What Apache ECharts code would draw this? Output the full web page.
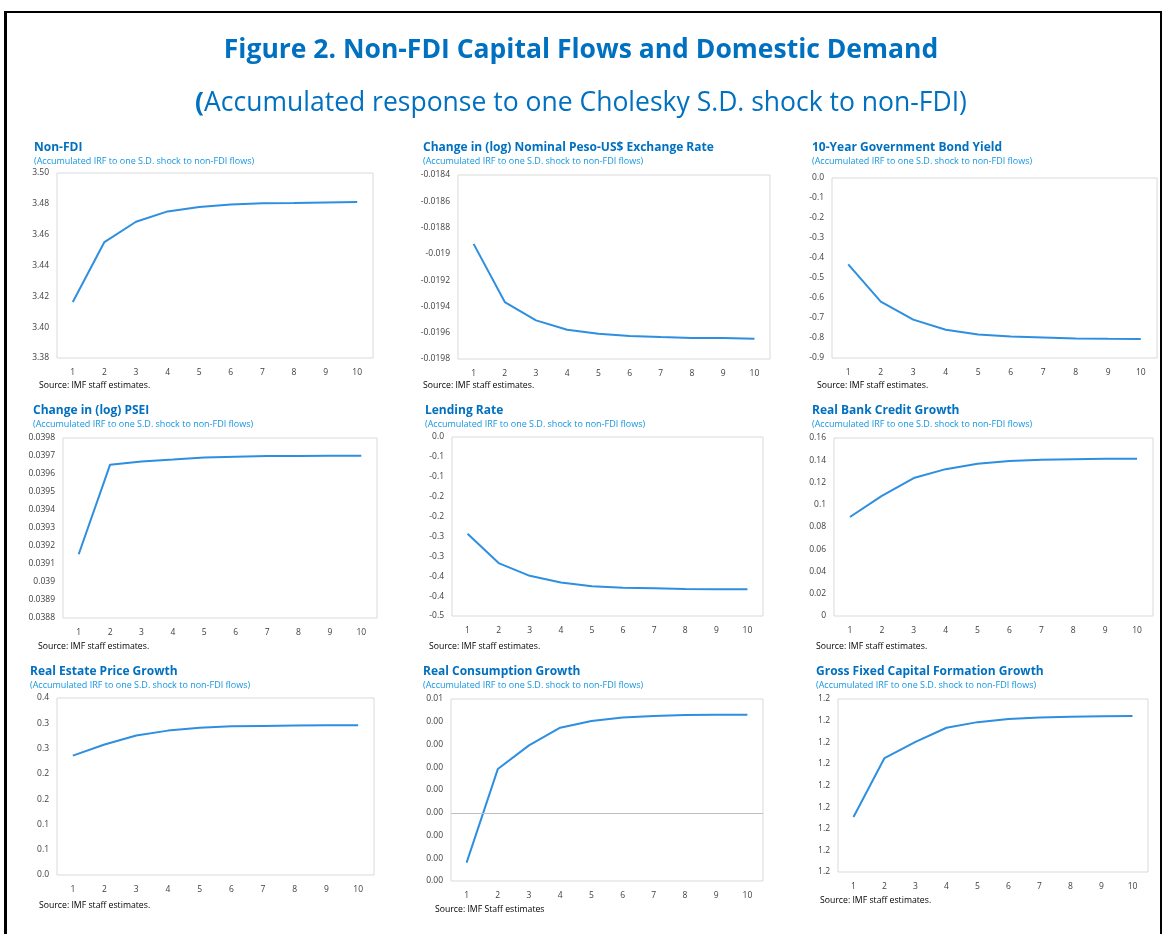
<!DOCTYPE html>
<html>
<head>
<meta charset="utf-8">
<script src="https://cdn.jsdelivr.net/npm/echarts@6/dist/echarts.min.js"></script>
<style>
  html, body { margin: 0; padding: 0; background: #fff; }
  #frame {
    position: absolute; left: 4px; top: 11px; width: 1153px; height: 940px;
    border-top: 2px solid #000; border-left: 3px solid #000; border-right: 2px solid #000;
  }
  #chart { position: absolute; left: 0; top: 0; width: 1162px; height: 934px; }
</style>
</head>
<body>
<div id="frame"></div>
<div id="chart"></div>
<script>
// horizon (periods after the shock)
const periods = ['1', '2', '3', '4', '5', '6', '7', '8', '9', '10']

// accumulated impulse responses
const nonFdi = [3.4163, 3.4552, 3.4684, 3.4751, 3.4779, 3.4795, 3.4803, 3.4805, 3.4809, 3.4812]
const pesoUsd = [-0.018924, -0.019367, -0.019506, -0.019577, -0.019608, -0.019625, -0.019633, -0.019640, -0.019641, -0.019645]
const bondYield = [-0.432, -0.618, -0.708, -0.759, -0.782, -0.792, -0.797, -0.802, -0.804, -0.805]
const psei = [0.039154, 0.039652, 0.039670, 0.039680, 0.039691, 0.039696, 0.039700, 0.039700, 0.039701, 0.039702]
const lendingRate = [-0.243, -0.317, -0.349, -0.366, -0.375, -0.379, -0.380, -0.382, -0.383, -0.383]
const bankCredit = [0.089, 0.108, 0.124, 0.132, 0.1368, 0.1393, 0.1405, 0.1410, 0.1414, 0.1414]
const realEstate = [0.236, 0.258, 0.276, 0.2855, 0.2914, 0.294, 0.2947, 0.2954, 0.296, 0.296]
const consumption = [-0.00219, 0.00192, 0.00296, 0.00374, 0.00403, 0.00419, 0.00425, 0.0043, 0.00431, 0.00431]
const gfcf = [1.21854, 1.22127, 1.22202, 1.22267, 1.22293, 1.22307, 1.22315, 1.22318, 1.2232, 1.22321]

const titles = [
  'Non-FDI',
  'Change in (log) Nominal Peso-US$ Exchange Rate',
  '10-Year Government Bond Yield',
  'Change in (log) PSEI',
  'Lending Rate',
  'Real Bank Credit Growth',
  'Real Estate Price Growth',
  'Real Consumption Growth',
  'Gross Fixed Capital Formation Growth'
]
const subtitle = '(Accumulated IRF to one S.D. shock to non-FDI flows)'
const sources = [
  'Source: IMF staff estimates.', 'Source: IMF staff estimates.', 'Source: IMF staff estimates.',
  'Source: IMF staff estimates.', 'Source: IMF staff estimates.', 'Source: IMF staff estimates.',
  'Source: IMF staff estimates.', 'Source: IMF Staff estimates', 'Source: IMF staff estimates.'
]

// rounding like the spreadsheet does (half away from zero, no "-0.00")
function roundFix(v, d) {
  const f = Math.pow(10, d)
  const r = Math.sign(v) * Math.round(Math.abs(v) * f + 1e-7) / f
  let s = r.toFixed(d)
  if (parseFloat(s) === 0) s = (0).toFixed(d)
  return s
}
const trim = d => v => String(+v.toFixed(d))

// y scales per panel
const panels = [
  { data: nonFdi, min: 3.38, max: 3.50, interval: 0.02, fmt: v => roundFix(v, 2) },
  { data: pesoUsd, min: -0.0198, max: -0.0184, interval: 0.0002, fmt: trim(4) },
  { data: bondYield, min: -0.9, max: 0, interval: 0.1, fmt: v => roundFix(v, 1) },
  { data: psei, min: 0.0388, max: 0.0398, interval: 0.0001, fmt: trim(4) },
  { data: lendingRate, min: -0.45, max: 0, interval: 0.05, fmt: v => roundFix(v, 1) },
  { data: bankCredit, min: 0, max: 0.16, interval: 0.02, fmt: trim(2) },
  { data: realEstate, min: 0, max: 0.35, interval: 0.05, fmt: v => roundFix(v, 1) },
  { data: consumption, min: -0.003, max: 0.005, interval: 0.001, fmt: v => roundFix(v, 2), zero: true },
  { data: gfcf, min: 1.216, max: 1.224, interval: 0.001, fmt: v => roundFix(v, 1) }
]

// layout in pixels: plot box, title position, source position
const layout = [
  { grid: [57, 173, 316, 185], title: [34, 142], source: [39, 386] },
  { grid: [458, 175, 312, 184], title: [423, 142], source: [423, 386] },
  { grid: [832, 178, 325, 180], title: [812, 142], source: [817, 386] },
  { grid: [63, 438, 314, 180], title: [33, 405], source: [38, 647] },
  { grid: [452, 437, 311, 179], title: [425, 405], source: [429, 647] },
  { grid: [834, 438, 319, 178], title: [812, 405], source: [816, 647] },
  { grid: [57, 698, 317, 177], title: [30, 666], source: [39, 906] },
  { grid: [451, 699, 312, 182], title: [423, 666], source: [435, 910] },
  { grid: [838, 699, 310, 173], title: [816, 666], source: [820, 901] }
]

const FONT = 'Open Sans'
const BLUE = '#0070C0'
const LINE = '#2E8FE0'

const option = {
  animation: false,
  textStyle: { fontFamily: FONT },
  title: [
    {
      text: 'Figure 2. Non-FDI Capital Flows and Domestic Demand',
      left: 'center', top: 32,
      textStyle: { fontFamily: FONT, fontSize: 26.5, fontWeight: 'bold', color: BLUE }
    },
    {
      text: '{b|(}Accumulated response to one Cholesky S.D. shock to non-FDI)',
      left: 'center', top: 85,
      textStyle: {
        fontFamily: FONT, fontSize: 26.5, fontWeight: 'normal', color: BLUE,
        rich: { b: { fontFamily: FONT, fontSize: 26.5, fontWeight: 'bold', color: BLUE } }
      }
    }
  ].concat(titles.map((t, i) => ({
    text: t,
    subtext: subtitle,
    left: layout[i].title[0], top: layout[i].title[1],
    padding: 0, itemGap: 3,
    textStyle: { fontFamily: FONT, fontSize: 12, fontWeight: 'bold', color: BLUE },
    subtextStyle: { fontFamily: FONT, fontSize: 9, color: '#1496E0' }
  }))),
  grid: layout.map(l => ({
    left: l.grid[0], top: l.grid[1], width: l.grid[2], height: l.grid[3],
    show: true, borderColor: '#D9D9D9', borderWidth: 1, backgroundColor: '#fff'
  })),
  xAxis: panels.map((p, i) => ({
    type: 'category', gridIndex: i, data: periods, boundaryGap: true,
    axisLine: { show: false }, axisTick: { show: false },
    axisLabel: { interval: 0, margin: 10, fontSize: 8.5, color: '#404040', fontFamily: FONT }
  })),
  yAxis: panels.map((p, i) => ({
    type: 'value', gridIndex: i, min: p.min, max: p.max, interval: p.interval,
    axisLine: { show: false }, axisTick: { show: false }, splitLine: { show: false },
    axisLabel: { margin: 8, fontSize: 8.5, color: '#404040', fontFamily: FONT, formatter: p.fmt }
  })),
  series: panels.map((p, i) => ({
    type: 'line', xAxisIndex: i, yAxisIndex: i, data: p.data,
    symbol: 'none', lineStyle: { color: LINE, width: 2 }, itemStyle: { color: LINE },
    markLine: p.zero ? {
      silent: true, symbol: 'none', label: { show: false },
      lineStyle: { color: '#BFBFBF', width: 1, type: 'solid' },
      data: [{ yAxis: 0 }]
    } : undefined
  })),
  graphic: sources.map((s, i) => ({
    type: 'text', x: layout[i].source[0], y: layout[i].source[1],
    style: { text: s, font: '8.7px "Open Sans"', fill: '#000', verticalAlign: 'middle' }
  }))
}

const chart = echarts.init(document.getElementById('chart'))
chart.setOption(option)
</script>
</body>
</html>
